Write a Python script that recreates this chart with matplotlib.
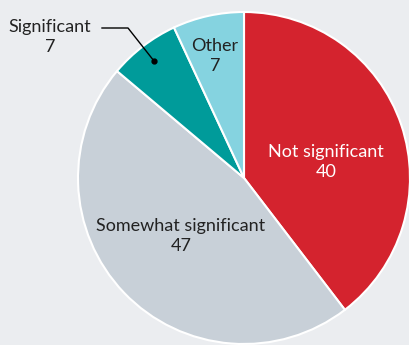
import matplotlib.pyplot as plt

# Survey responses
categories = ['Not significant', 'Somewhat significant', 'Significant', 'Other']
values = [40, 47, 7, 7]
colors = ['#d4232e', '#c8d0d8', '#009b9a', '#85d3e0']

plt.rcParams['font.family'] = ['Lato', 'DejaVu Sans']

W, H = 409, 345
fig = plt.figure(figsize=(W / 100, H / 100), dpi=100, facecolor='#ebedf0')
ax = fig.add_axes([0, 0, 1, 1])
ax.set_facecolor('#ebedf0')

cx, cy, r = 244, H - 178, 166
ax.pie(values, colors=colors, startangle=90, counterclock=False,
       center=(cx, cy), radius=r, frame=True,
       wedgeprops=dict(edgecolor='white', linewidth=1.5))
ax.set_xlim(0, W)
ax.set_ylim(0, H)
ax.set_aspect('equal')
ax.axis('off')

fs = 13
ls = 1.35
ax.text(326, H - 162, f'{categories[0]}\n{values[0]}', color='white',
        ha='center', va='center', fontsize=fs, linespacing=ls)
ax.text(181, H - 236, f'{categories[1]}\n{values[1]}', color='#222222',
        ha='center', va='center', fontsize=fs, linespacing=ls)
ax.text(215, H - 56, f'{categories[3]}\n{values[3]}', color='#222222',
        ha='center', va='center', fontsize=fs, linespacing=ls)
ax.text(50, H - 37, f'{categories[2]}\n{values[2]}', color='#222222',
        ha='center', va='center', fontsize=fs, linespacing=ls)

# Leader line for the small slice
ax.plot([102, 128, 154], [H - 28, H - 28, H - 61], color='black', lw=1)
ax.plot([154], [H - 61], 'o', color='black', ms=3.5)

fig.savefig('out.png', dpi=100, facecolor=fig.get_facecolor())
